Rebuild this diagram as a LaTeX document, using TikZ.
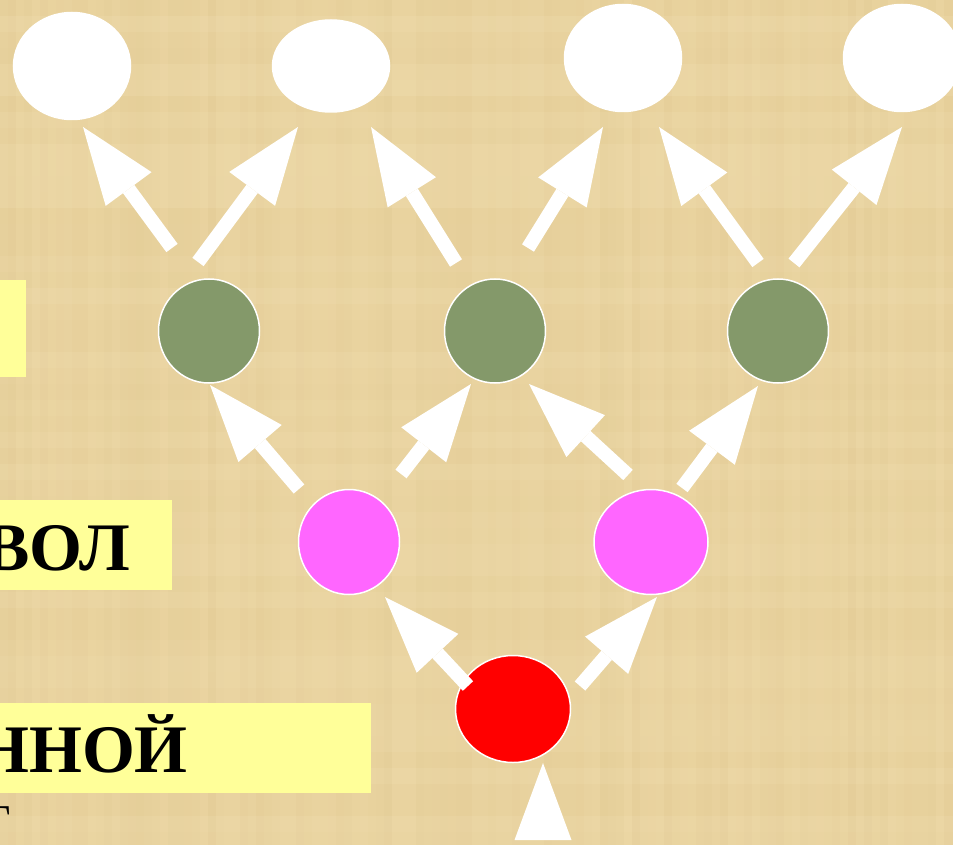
\documentclass[tikz,border=0pt]{standalone}
\usepackage{fontspec}
\setmainfont{Liberation Serif}
\usetikzlibrary{arrows.meta,shapes.geometric}
\definecolor{papyrus}{RGB}{234,212,160}
\definecolor{papyrusDark}{RGB}{205,178,118}
\definecolor{papyrusLight}{RGB}{246,230,190}
\definecolor{noteYellow}{RGB}{255,255,153}
\definecolor{leafGreen}{RGB}{132,153,106}
\definecolor{budPink}{RGB}{255,102,255}
\definecolor{rootRed}{RGB}{255,0,0}

\begin{document}
\begin{tikzpicture}[
  x=1pt, y=-1pt,
  cell/.style={
    ellipse,
    inner sep=0pt,
    draw=white,
    line width=1.5pt
  },
  top/.style={cell, fill=white, minimum width=117pt, minimum height=107pt},
  leaf/.style={cell, fill=leafGreen, minimum width=101pt, minimum height=104pt},
  bud/.style={cell, fill=budPink, minimum width=101pt, minimum height=105pt},
  root/.style={cell, fill=rootRed, minimum width=115pt, minimum height=107pt},
  note/.style={fill=noteYellow},
  word/.style={inner sep=0pt, font=\bfseries\fontsize{68}{80}\selectfont},
  arrow/.style={-{Triangle[length=77pt,width=57pt,line width=0pt]},line width=14pt,white}
]
  \useasboundingbox (0,0) rectangle (953,845);
  \clip (0,0) rectangle (953,845);
  \fill[papyrus] (0,0) rectangle (953,845);

  % papyrus fibres
  \pgfmathsetseed{11}
  \foreach \i in {0,...,119} {
    \pgfmathsetmacro{\o}{0.16*rnd}
    \fill[papyrusDark, opacity=\o] (\i*8,0) rectangle ++(8,845);
  }
  \foreach \j in {0,...,52} {
    \pgfmathsetmacro{\o}{0.22*rnd}
    \fill[papyrusLight, opacity=\o] (0,\j*16) rectangle ++(953,16);
  }

  % yellow labels on the left
  \fill[note] (0,280) rectangle (26,377);
  \fill[note] (0,500) rectangle (172,590);
  \fill[note] (0,703) rectangle (371,793);
  \node[word, anchor=base east] (vol) at (130,570) {ВОЛ};
  \node[word, anchor=base east] (nnoy) at (188,772) {ННОЙ};
  \node[inner sep=0pt, anchor=north east, font=\fontsize{44}{50}\selectfont] (rest) at (11,806) {Г};

  % the tree, level by level
  \node[top] (w1) at (72,66) {};
  \node[top, minimum height=92pt] (w2) at (331,66) {};
  \node[top] (w3) at (623,58) {};
  \node[top] (w4) at (902,58) {};

  \node[leaf] (g1) at (209,331) {};
  \node[leaf] (g2) at (495,331) {};
  \node[leaf] (g3) at (778,331) {};

  \node[bud] (p1) at (349,542) {};
  \node[bud, minimum width=114pt] (p2) at (651,542) {};

  \node[root] (r) at (513,709) {};
  \coordinate (stem) at (543,840);

  \draw[arrow] (stem) -- ([shift={(30,54)}]r.center);

  \draw[arrow] ([shift={(-45,-23)}]r.center) -- ([shift={(36,55)}]p1.center);
  \draw[arrow] ([shift={(67,-23)}]r.center) -- ([shift={(6,55)}]p2.center);

  \draw[arrow] ([shift={(-50,-53)}]p1.center) -- ([shift={(1,54)}]g1.center);
  \draw[arrow] ([shift={(52,-68)}]p1.center) -- ([shift={(-24,53)}]g2.center);
  \draw[arrow] ([shift={(-23,-67)}]p2.center) -- ([shift={(34,53)}]g2.center);
  \draw[arrow] ([shift={(31,-54)}]p2.center) -- ([shift={(-20,55)}]g3.center);

  \draw[arrow] ([shift={(-37,-83)}]g1.center) -- ([shift={(11,61)}]w1.center);
  \draw[arrow] ([shift={(-11,-69)}]g1.center) -- ([shift={(-33,61)}]w2.center);
  \draw[arrow] ([shift={(-39,-68)}]g2.center) -- ([shift={(40,61)}]w2.center);
  \draw[arrow] ([shift={(33,-83)}]g2.center) -- ([shift={(-20,69)}]w3.center);
  \draw[arrow] ([shift={(-20,-68)}]g3.center) -- ([shift={(36,69)}]w3.center);
  \draw[arrow] ([shift={(16,-68)}]g3.center) -- ([shift={(0,69)}]w4.center);
\end{tikzpicture}
\end{document}
